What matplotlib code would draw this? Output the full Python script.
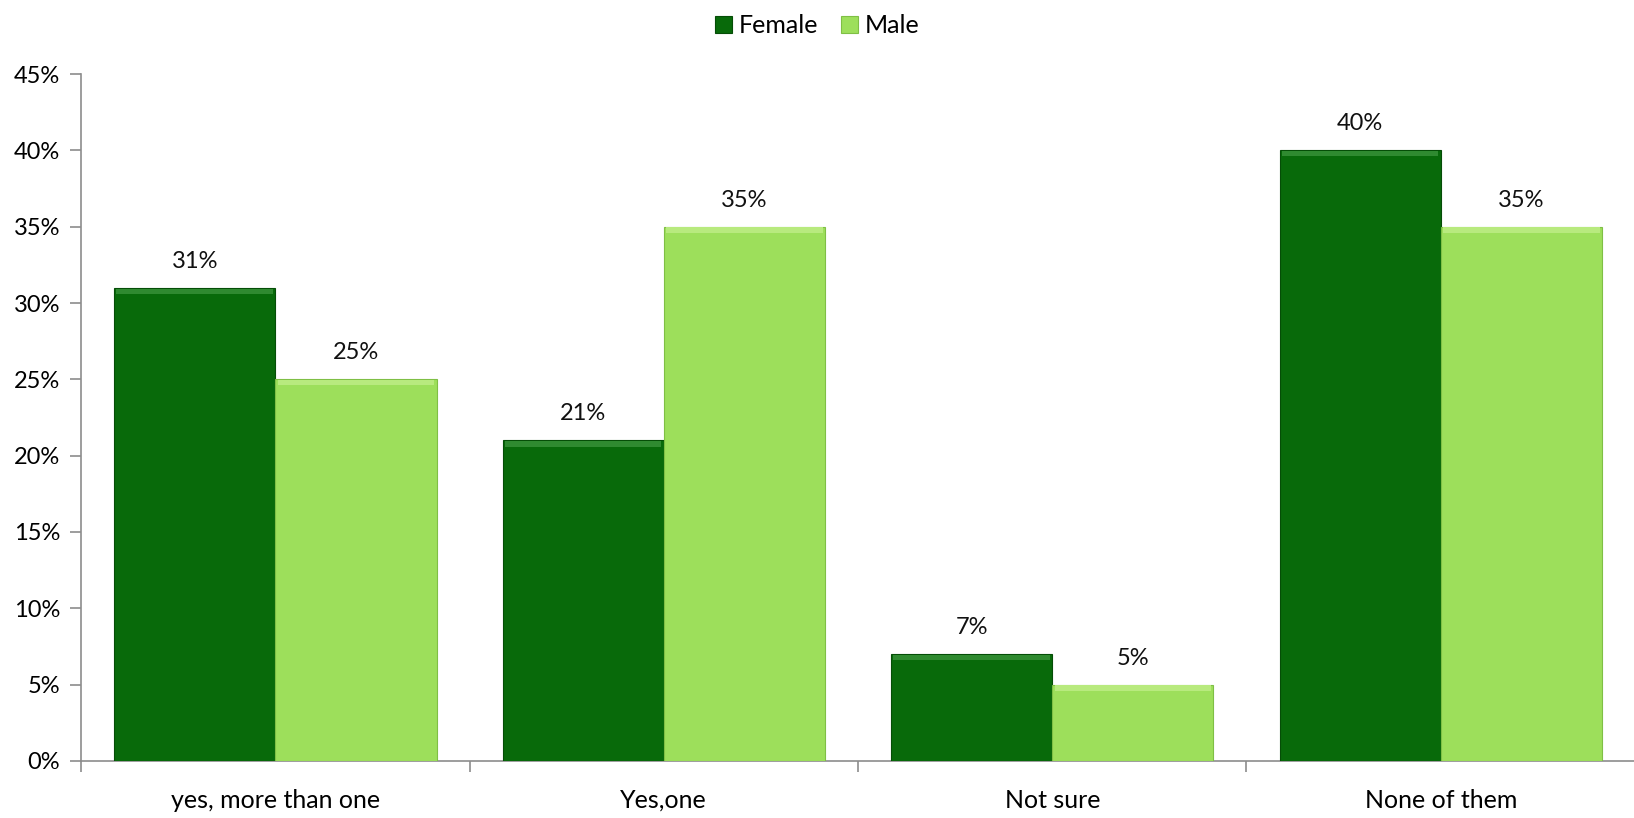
import matplotlib
matplotlib.use("Agg")
import matplotlib.pyplot as plt
import numpy as np
from matplotlib.ticker import FuncFormatter, FixedLocator

categories = ["yes, more than one", "Yes,one", "Not sure", "None of them"]
female = [31, 21, 7, 40]
male = [25, 35, 5, 35]
series_names = ["Female", "Male"]

plt.rcParams['font.family'] = ['Lato', 'DejaVu Sans']

fig = plt.figure(figsize=(16.34, 8.18), dpi=100)
ax = fig.add_axes([0.0496, 0.0697, 0.9510, 0.8398])

x = np.arange(len(categories))
w = 0.415
c_f = "#086a0a"
c_m = "#9ddf5b"
bf = ax.bar(x - w/2, female, w, color=c_f, edgecolor="#054d07", linewidth=0.8, label=series_names[0], zorder=3)
bm = ax.bar(x + w/2, male, w, color=c_m, edgecolor="#7fbf45", linewidth=0.8, label=series_names[1], zorder=3)

# bevel highlight at tops
for bars, hc in ((bf, "#2f8a30"), (bm, "#b8ea7e")):
    for b in bars:
        ax.bar(b.get_x() + b.get_width()/2, 0.35, b.get_width()*0.97, bottom=b.get_height()-0.4,
               color=hc, linewidth=0, zorder=4)

for bars, vals in ((bf, female), (bm, male)):
    for b, v in zip(bars, vals):
        ax.text(b.get_x() + b.get_width()/2, v + 1.05, f"{v}%", ha="center", va="bottom", fontsize=17, color="#111111")

ax.set_xlim(-0.5, len(categories) - 0.5)
ax.set_ylim(0, 45)
ax.set_yticks(np.arange(0, 46, 5))
ax.yaxis.set_major_formatter(FuncFormatter(lambda v, p: f"{int(v)}%"))
ax.set_xticks(x)
ax.set_xticklabels(categories, fontsize=18)
ax.xaxis.set_minor_locator(FixedLocator(np.arange(-0.5, len(categories) - 1, 1.0)))
ax.tick_params(axis="x", which="major", length=0, pad=20)
ax.tick_params(axis="x", which="minor", length=8, color="#8c8c8c", width=1.2)
ax.tick_params(axis="y", length=8, color="#8c8c8c", width=1.2, labelsize=17, pad=7)
for s in ("top", "right"):
    ax.spines[s].set_visible(False)
for s in ("left", "bottom"):
    ax.spines[s].set_color("#8c8c8c")
    ax.spines[s].set_linewidth(1.2)

leg = fig.legend(handles=[bf, bm], labels=series_names, loc="upper center", bbox_to_anchor=(0.5, 1.01),
                 ncol=2, frameon=False, fontsize=18, handlelength=0.7, handleheight=0.7,
                 handletextpad=0.25, columnspacing=0.9)

fig.savefig("out.png", dpi=100)
